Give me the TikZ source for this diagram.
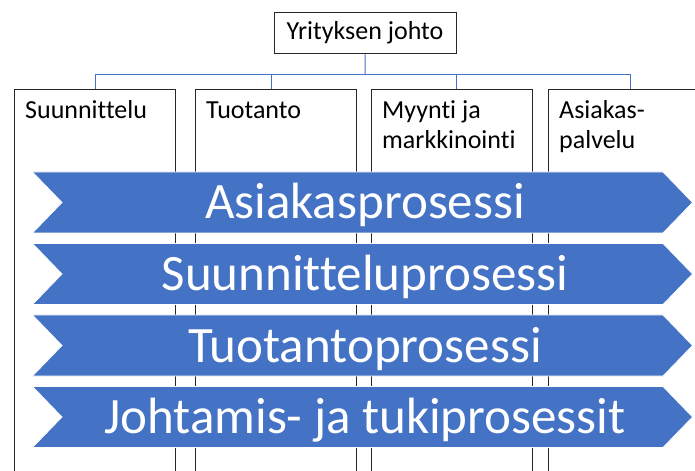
\documentclass[tikz,border=0pt]{standalone}
\usepackage{fontspec}
\setmainfont{Carlito}[Ligatures=NoCommon]
\definecolor{procblue}{HTML}{4472C4}
\definecolor{linkblue}{HTML}{4472C4}
\definecolor{edgegray}{HTML}{262626}
\begin{document}
\begin{tikzpicture}[x=1bp,y=-1bp,
  orgbox/.style={draw=edgegray, line width=1bp, rectangle, inner sep=0,
    anchor=north west, font=\fontsize{26bp}{30bp}\selectfont},
  colbox/.style={draw=edgegray, line width=1bp, rectangle, inner sep=0,
    anchor=north west, minimum width=161bp, minimum height=420bp},
  collabel/.style={anchor=base west, inner sep=0, align=left,
    font=\fontsize{26bp}{30bp}\selectfont},
  link/.style={draw=linkblue, line width=1bp},
  procshape/.style={fill=procblue, draw=white, line width=0.75bp},
  proclabel/.style={anchor=base, inner sep=0, text=white,
    font=\fontsize{51bp}{51bp}\selectfont}]
  \useasboundingbox (0,0) rectangle (695,471);
  \fill[white] (0,0) rectangle (695,471);
  \clip (0,0) rectangle (695,471);

  % management box
  \node[orgbox, minimum width=182bp, minimum height=41.6bp] (johto) at (273.5,11.7) {Yrityksen johto};

  % department columns (open towards the bottom)
  \node[colbox] (col1) at (14,89) {};
  \node[colbox] (col2) at (195,89) {};
  \node[colbox] (col3) at (371,89) {};
  \node[colbox] (col4) at (548,89) {};

  % labels: the base anchor sits on the last line, so two-line labels go one line lower
  \node[collabel] (l1) at ([xshift=11bp,yshift=-29.5bp]col1.north west) {Suunnittelu};
  \node[collabel] (l2) at ([xshift=11bp,yshift=-29.5bp]col2.north west) {Tuotanto};
  \node[collabel] (l3) at ([xshift=11bp,yshift=-59.5bp]col3.north west) {Myynti ja\\markkinointi};
  \node[collabel] (l4) at ([xshift=11bp,yshift=-59.5bp]col4.north west) {Asiakas-\\palvelu};

  % organisation connectors
  \coordinate (bus) at (365,75);
  \draw[link] (johto.south) -- (bus);
  \draw[link] (col1.north) -- (col1.north |- bus) -- ([xshift=1.5bp]col4.north |- bus) -- ([xshift=1.5bp]col4.north);
  \draw[link] ([xshift=-4.5bp]col2.north) -- ([xshift=-4.5bp]col2.north |- bus);
  \draw[link] ([xshift=4bp]col3.north) -- ([xshift=4bp]col3.north |- bus);

  % process chevrons
  \foreach \t/\nm/\txt in {172/pa/Asiakasprosessi,
                           243.5/pb/Suunnitteluprosessi,
                           315/pc/Tuotantoprosessi,
                           386.5/pd/{Johtamis- ja tukiprosessit}} {
    \path[procshape] (32.5,\t) -- (663,\t) -- (692.5,\t+30.5) -- (663,\t+61)
      -- (32.5,\t+61) -- (62,\t+30.5) -- cycle;
    \node[proclabel] (\nm) at (365,\t+47) {\txt};
  }
\end{tikzpicture}
\end{document}
